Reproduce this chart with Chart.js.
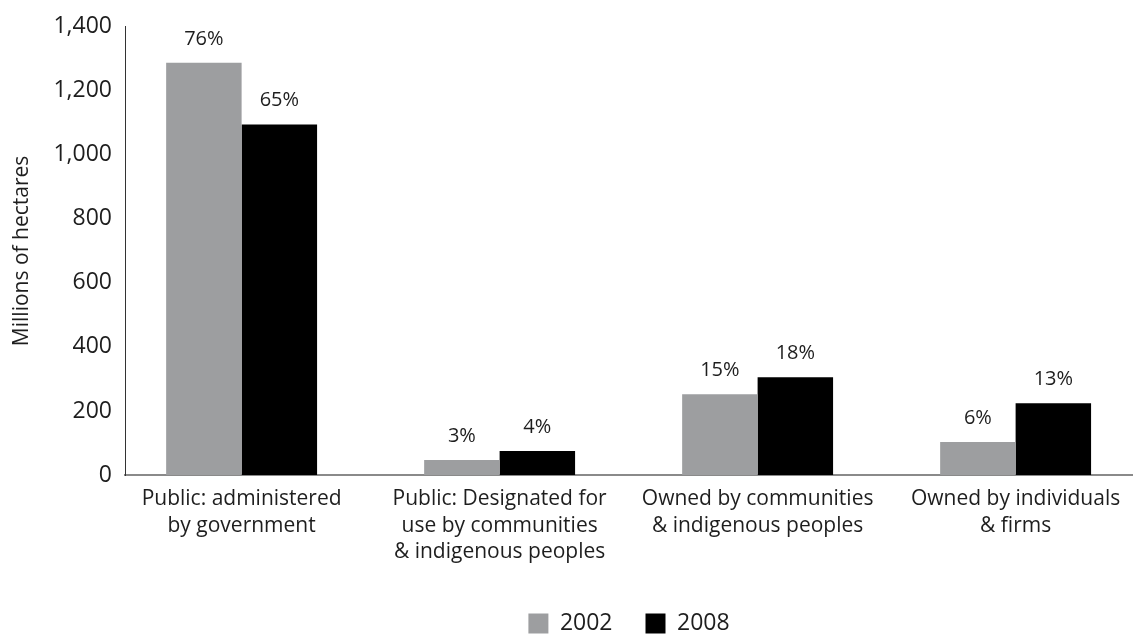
<!DOCTYPE html>
<html>
<head>
<meta charset="utf-8">
<title>Forest tenure 2002 and 2008</title>
<script src="https://cdn.jsdelivr.net/npm/chart.js@4.4.1/dist/chart.umd.min.js"></script>
<style>
  html, body { margin: 0; padding: 0; background: #ffffff; overflow: hidden; }
  #wrap { width: 1133px; height: 634px; }
</style>
</head>
<body>
<div id="wrap"><canvas id="chart" width="1133" height="634"></canvas></div>
<script>
// Tenure categories (multi-line axis labels)
const categories = [
  ['Public: administered', 'by government'],
  ['Public: Designated for', 'use by communities', '& indigenous peoples'],
  ['Owned by communities', '& indigenous peoples'],
  ['Owned by individuals', '& firms']
];
const years = ['2002', '2008'];

// Forest area, millions of hectares
const hectares2002 = [1288, 47, 252, 103];
const hectares2008 = [1095, 75, 305, 224];

// Share of total forest area printed above each bar
const share2002 = ['76%', '3%', '15%', '6%'];
const share2008 = ['65%', '4%', '18%', '13%'];

const yMax = 1400;
const yStep = 200;

const FONT = '"Open Sans", "Noto Sans", sans-serif';
const TEXT = '#1e1e1e';

const shareLabels = {
  id: 'shareLabels',
  afterDatasetsDraw(chart) {
    const ctx = chart.ctx;
    const shares = [share2002, share2008];
    ctx.save();
    ctx.font = '20px ' + FONT;
    ctx.fillStyle = TEXT;
    ctx.textAlign = 'center';
    ctx.textBaseline = 'alphabetic';
    chart.data.datasets.forEach((ds, di) => {
      chart.getDatasetMeta(di).data.forEach((bar, i) => {
        ctx.fillText(shares[di][i], bar.x, bar.y - 18);
      });
    });
    ctx.restore();
  }
};

function draw() {
  const toPoints = vals => vals.map((v, i) => ({ x: i, y: v }));
  new Chart(document.getElementById('chart'), {
    type: 'bar',
    data: {
      datasets: [
        { label: years[0], data: toPoints(hectares2002), backgroundColor: '#9d9ea0', borderWidth: 0 },
        { label: years[1], data: toPoints(hectares2008), backgroundColor: '#000000', borderWidth: 0 }
      ]
    },
    options: {
      responsive: false,
      animation: false,
      events: [],
      layout: { padding: { top: 25, left: 0, right: 0, bottom: 0 } },
      datasets: { bar: { categoryPercentage: 0.585, barPercentage: 1.0 } },
      scales: {
        x: {
          type: 'linear',
          bounds: 'data',
          offset: false,
          min: -0.452,
          max: 3.455,
          grid: { display: false, drawTicks: false },
          border: { display: true, color: '#8a8a8a', width: 2 },
          afterBuildTicks: s => { s.ticks = categories.map((_, i) => ({ value: i })); },
          afterFit: s => { s.height = 104; },
          ticks: {
            autoSkip: false,
            maxRotation: 0,
            minRotation: 0,
            padding: 11,
            color: TEXT,
            font: { family: FONT, size: 21, lineHeight: 1.26 },
            callback: v => categories[v]
          }
        },
        y: {
          min: 0,
          max: yMax,
          grid: { display: false, drawTicks: false },
          border: { display: true, color: '#333333', width: 1 },
          afterFit: s => { s.width = 125; },
          ticks: {
            stepSize: yStep,
            padding: 13,
            color: TEXT,
            font: { family: FONT, size: 23 },
            callback: v => v.toLocaleString('en-US')
          },
          title: {
            display: true,
            text: 'Millions of hectares',
            color: TEXT,
            font: { family: FONT, size: 21 },
            padding: { top: 9, bottom: 0 }
          }
        }
      },
      plugins: {
        legend: {
          position: 'bottom',
          fullSize: false,
          maxHeight: 55,
          labels: {
            boxWidth: 20,
            boxHeight: 20,
            padding: 33,
            color: TEXT,
            font: { family: FONT, size: 23 }
          }
        },
        tooltip: { enabled: false },
        title: { display: false }
      }
    },
    plugins: [shareLabels]
  });
}

Promise.all([
  document.fonts.load('20px "Open Sans"'),
  document.fonts.load('23px "Open Sans"')
]).then(draw, draw);
</script>
</body>
</html>
